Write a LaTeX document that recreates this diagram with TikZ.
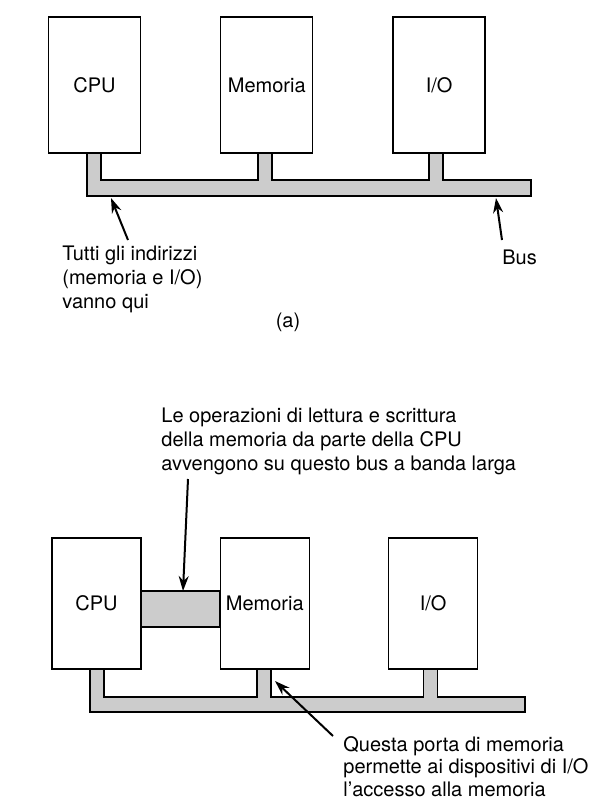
\documentclass[tikz,border=0pt]{standalone}
\usepackage{fontspec}
\setmainfont{TeX Gyre Heros}
\usetikzlibrary{arrows.meta,positioning}
\definecolor{busgray}{gray}{0.8}
\tikzset{
  unit/.style={draw, line width=0.65pt, inner sep=0pt,
    minimum width=46pt, minimum height=68pt,
    font=\fontsize{10}{12}\selectfont},
  unitB/.style={unit, minimum width=44.5pt, minimum height=65.5pt},
  busline/.style={draw, fill=busgray, line width=0.65pt, line join=miter},
  note/.style={align=left, inner sep=0pt, anchor=north west,
    font=\fontsize{10}{11.8}\selectfont},
  pointer/.style={-{Stealth[length=7.5pt,width=5pt]}, line width=1pt}
}
\begin{document}
\begin{tikzpicture}[x=0.5pt,y=-0.5pt]
  \useasboundingbox (0,0) rectangle (592,805);

  % (a) one bus for everything
  \path[busline] (87,153) -- (87,196) -- (531,196) -- (531,180)
    -- (443,180) -- (443,153) -- (429,153) -- (429,180)
    -- (272,180) -- (272,153) -- (258,153) -- (258,180)
    -- (101,180) -- (101,153) -- cycle;
  \node[unit] (cpuA) at (94.5,85) {CPU};
  \node[unit, right=39.5pt of cpuA] (memA) {Memoria};
  \node[unit, right=39.5pt of memA] (ioA) {I/O};

  \node[note] (addrnote) at (62,246) {Tutti gli indirizzi\\(memoria e I/O)\\vanno qui};
  \node[note] (busnote) at (502,250) {Bus};
  \node[font=\fontsize{10}{12}\selectfont] (capA) at (288,322) {(a)};

  \coordinate (addrtail) at (128,240);
  \coordinate (addrtip)  at (111,198);
  \coordinate (bustail)  at (502,240);
  \coordinate (bustip)   at (496,198);
  \draw[pointer] (addrtail) -- (addrtip);
  \draw[pointer] (bustail) -- (bustip);

  % (b) memory bus between CPU and memory
  \path[busline] (90,669) -- (90,712) -- (525,712) -- (525,697)
    -- (437.5,697) -- (437.5,669) -- (423.5,669) -- (423.5,697)
    -- (271,697) -- (271,669) -- (257,669) -- (257,697)
    -- (104,697) -- (104,669) -- cycle;
  \node[unitB] (cpuB) at (96.5,603.5) {CPU};
  \node[unitB, right=39pt of cpuB] (memB) {Memoria};
  \node[unitB, right=39pt of memB] (ioB) {I/O};
  \path[busline] (cpuB.east |- 0,591) rectangle (memB.west |- 0,627);

  \node[note] (widenote) at (161,408)
    {Le operazioni di lettura e scrittura\\della memoria da parte della CPU\\avvengono su questo bus a banda larga};
  \node[note, font=\fontsize{10}{11.3}\selectfont] (portnote) at (343,736)
    {Questa porta di memoria\\permette ai dispositivi di I/O\\l’accesso alla memoria};

  \coordinate (widetail) at (188,479);
  \coordinate (widetip)  at (183,591);
  \coordinate (porttail) at (333,736);
  \coordinate (porttip)  at (275,681);
  \draw[pointer] (widetail) -- (widetip);
  \draw[pointer] (porttail) -- (porttip);
\end{tikzpicture}
\end{document}
